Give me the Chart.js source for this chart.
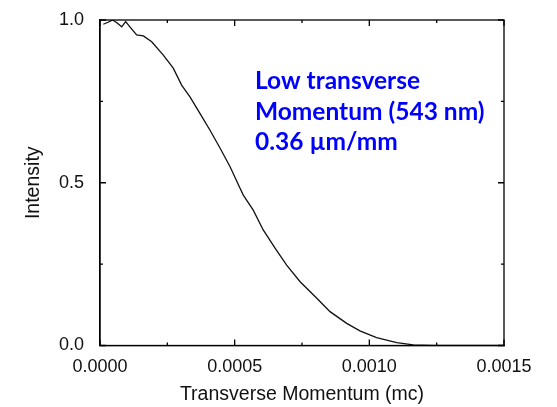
<!DOCTYPE html>
<html>
<head>
<meta charset="utf-8">
<script src="https://cdn.jsdelivr.net/npm/chart.js@4.4.1/dist/chart.umd.min.js"></script>
<style>
  html, body { margin: 0; padding: 0; background: #fff; }
  #wrap { width: 557px; height: 407px; }
</style>
</head>
<body>
<div id="wrap"><canvas id="grafico"></canvas></div>
<script>
// valores
const momentum = [0.0000123, 0.0000300, 0.0000472, 0.0000650, 0.0000806, 0.0000954, 0.000111, 0.000136, 0.000161,
    0.000192, 0.000235, 0.000272, 0.000303, 0.000334, 0.000371, 0.000408, 0.000446, 0.000483, 0.000520,
    0.000532, 0.000569, 0.000606, 0.000650, 0.000693, 0.000743, 0.000805, 0.000854, 0.000916, 0.000965,
    0.001027, 0.001102, 0.001163, 0.001236, 0.00130, 0.00140, 0.00150];
const intensity = [0.987, 0.993, 1.000, 0.990, 0.979, 0.995, 0.979, 0.954, 0.951,
    0.933, 0.892, 0.852, 0.800, 0.764, 0.713, 0.662, 0.606, 0.549, 0.483,
    0.462, 0.416, 0.355, 0.299, 0.247, 0.196, 0.145, 0.104, 0.068, 0.045,
    0.024, 0.009, 0.002, 0.000, 0.000, 0.000, 0.000];

const xTicks = [0, 0.0005, 0.0010, 0.0015];
const xMinor = [0.00025, 0.00075, 0.00125];
const yTicks = [0, 0.5, 1.0];
const yMinor = [0.25, 0.75];

const notaLineas = ["Low transverse", "Momentum (543 nm)", "0.36 \u00b5m/mm"];

// marco completo y ticks hacia adentro (estilo Origin)
const marcoPlugin = {
    id: "marco",
    afterDraw(chart) {
        const ctx = chart.ctx;
        const a = chart.chartArea;
        const sx = chart.scales.x;
        const sy = chart.scales.y;
        ctx.save();
        ctx.strokeStyle = "#000";
        ctx.lineWidth = 1.3;
        ctx.strokeRect(a.left, a.top, a.right - a.left, a.bottom - a.top);
        ctx.beginPath();
        const tick = (vals, len) => {
            vals.forEach(v => {
                const px = sx.getPixelForValue(v);
                ctx.moveTo(px, a.bottom); ctx.lineTo(px, a.bottom - len);
                ctx.moveTo(px, a.top); ctx.lineTo(px, a.top + len);
            });
        };
        const tickY = (vals, len) => {
            vals.forEach(v => {
                const py = sy.getPixelForValue(v);
                ctx.moveTo(a.left, py); ctx.lineTo(a.left + len, py);
                ctx.moveTo(a.right, py); ctx.lineTo(a.right - len, py);
            });
        };
        tick(xTicks, 6); tick(xMinor, 3);
        tickY(yTicks, 6); tickY(yMinor, 3);
        ctx.stroke();

        // texto de la anotacion
        ctx.fillStyle = "#0000ff";
        ctx.font = "bold 24.5px Lato";
        ctx.textBaseline = "alphabetic";
        ctx.textAlign = "left";
        notaLineas.forEach((t, i) => {
            ctx.fillText(t, 255, 89 + i * 30.5);
        });
        ctx.restore();
    }
};

new Chart(document.getElementById("grafico"), {
    type: "scatter",
    data: {
        datasets: [{
            data: momentum.map((m, i) => ({ x: m, y: intensity[i] })),
            showLine: true,
            borderColor: "#111",
            borderWidth: 1.3,
            pointRadius: 0,
            tension: 0
        }]
    },
    options: {
        responsive: true,
        maintainAspectRatio: false,
        animation: false,
        layout: { padding: { left: 0, top: 20, right: 53, bottom: 0 } },
        plugins: {
            legend: { display: false },
            tooltip: { enabled: false }
        },
        scales: {
            x: {
                type: "linear",
                min: 0,
                max: 0.0015,
                afterBuildTicks: s => { s.ticks = xTicks.map(v => ({ value: v })); },
                afterFit: s => { s.height = 61.5; },
                grid: { display: false },
                border: { display: true, color: "#000", width: 1.3 },
                ticks: {
                    padding: 3,
                    maxRotation: 0,
                    color: "#111",
                    font: { family: "Liberation Sans", size: 18 },
                    callback: v => Number(v).toFixed(4)
                },
                title: {
                    display: true,
                    text: "Transverse Momentum (mc)",
                    color: "#111",
                    font: { family: "Liberation Sans", size: 19.5 },
                    padding: { top: 0, bottom: 1 }
                }
            },
            y: {
                type: "linear",
                min: 0,
                max: 1.0,
                afterBuildTicks: s => { s.ticks = yTicks.map(v => ({ value: v })); },
                afterFit: s => { s.width = 100; },
                grid: { display: false },
                border: { display: true, color: "#000", width: 1.3 },
                ticks: {
                    padding: 8,
                    color: "#111",
                    font: { family: "Liberation Sans", size: 18 },
                    callback: v => Number(v).toFixed(1)
                },
                title: {
                    display: true,
                    text: "Intensity",
                    color: "#111",
                    font: { family: "Liberation Sans", size: 19.5 },
                    padding: { top: 22, bottom: 0 }
                }
            }
        }
    },
    plugins: [marcoPlugin]
});
</script>
</body>
</html>
